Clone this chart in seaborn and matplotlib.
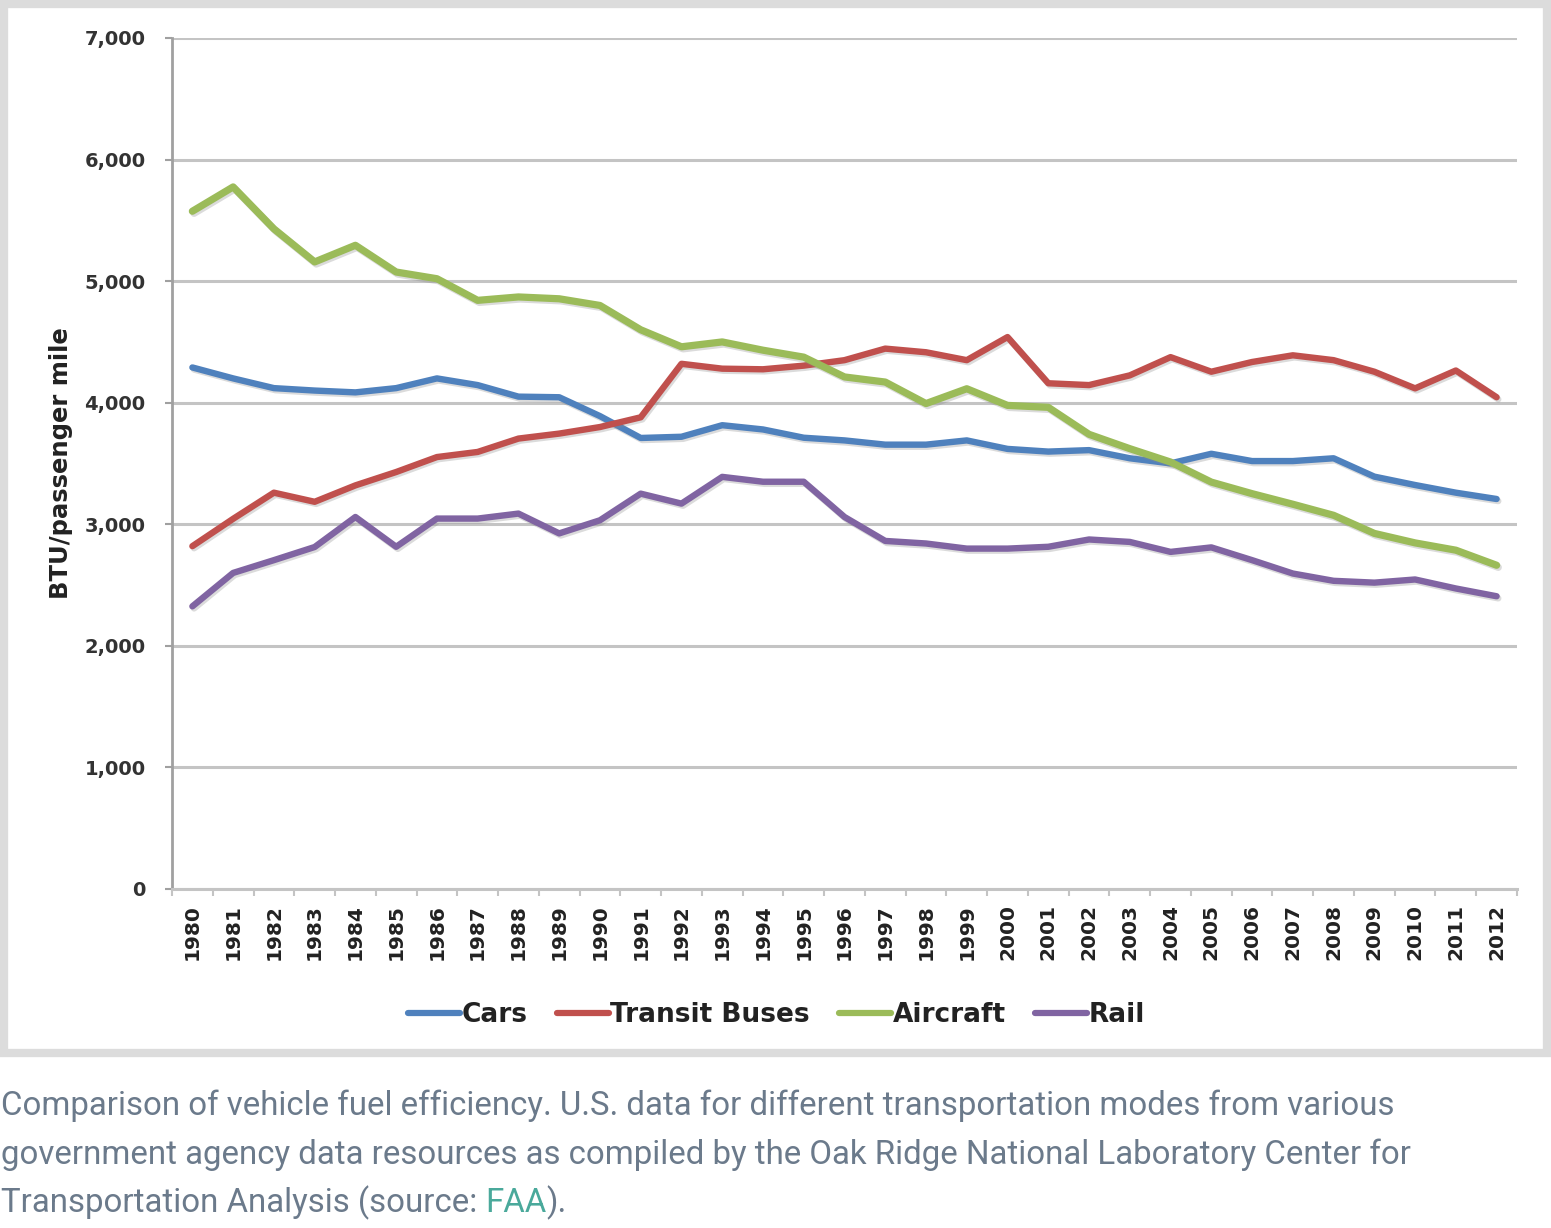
import numpy as np
import pandas as pd
import matplotlib
matplotlib.use("Agg")
import matplotlib.pyplot as plt
import matplotlib.patheffects as pe
from matplotlib.patches import Rectangle
from matplotlib.ticker import FixedLocator, FuncFormatter
import seaborn as sns

years = list(range(1980, 2013))
cars = [4290, 4200, 4120, 4100, 4085, 4120, 4200, 4145, 4050, 4045, 3890, 3710,
        3720, 3815, 3780, 3712, 3690, 3655, 3655, 3690, 3620, 3598, 3610, 3543,
        3501, 3580, 3520, 3520, 3543, 3392, 3323, 3260, 3208]
buses = [2820, 3045, 3260, 3185, 3320, 3430, 3553, 3595, 3705, 3746, 3800, 3880,
         4320, 4280, 4275, 4305, 4350, 4445, 4415, 4350, 4540, 4160, 4145, 4225,
         4375, 4255, 4335, 4390, 4350, 4255, 4118, 4265, 4045]
aircraft = [5575, 5775, 5430, 5158, 5295, 5075, 5020, 4842, 4870, 4855, 4800, 4600,
            4460, 4500, 4432, 4375, 4212, 4170, 3993, 4115, 3978, 3962, 3740, 3622,
            3512, 3347, 3252, 3165, 3074, 2925, 2847, 2787, 2663]
rail = [2325, 2600, 2705, 2813, 3060, 2815, 3047, 3047, 3088, 2925, 3033, 3252,
        3170, 3390, 3350, 3350, 3060, 2863, 2842, 2800, 2800, 2815, 2875, 2855,
        2773, 2810, 2705, 2595, 2535, 2520, 2546, 2472, 2408]
series_names = ["Cars", "Transit Buses", "Aircraft", "Rail"]
colors = ["#4f81bd", "#c0504d", "#9bbb59", "#8064a2"]
y_ticks = [0, 1000, 2000, 3000, 4000, 5000, 6000, 7000]
y_label = "BTU/passenger mile"
caption_lines = [
    "Comparison of vehicle fuel efficiency. U.S. data for different transportation modes from various",
    "government agency data resources as compiled by the Oak Ridge National Laboratory Center for",
]
caption_last = ["Transportation Analysis (source: ", "FAA", ")."]

df = pd.DataFrame({
    "Year": years * 4,
    "Value": cars + buses + aircraft + rail,
    "Mode": sum([[n] * len(years) for n in series_names], []),
})

sns.set_theme(style="white")
plt.rcParams["font.family"] = ["DejaVu Sans"]

W, H = 1551, 1228
fig = plt.figure(figsize=(W / 100, H / 100), dpi=100)
fig.patch.set_facecolor("white")

# outer grey frame
fig.patches.append(Rectangle((4 / W, 1 - 1053 / H), (W - 8) / W, 1049 / H,
                             transform=fig.transFigure, fill=False,
                             edgecolor="#dcdcdc", linewidth=6, zorder=0))

ax = fig.add_axes([172 / W, 1 - 889 / H, (1517 - 172) / W, (889 - 38) / H])
palette = dict(zip(series_names, colors))
sns.lineplot(data=df, x="Year", y="Value", hue="Mode", palette=palette,
             hue_order=series_names, linewidth=4.6, ax=ax, legend=True)

for line in ax.get_lines():
    lw = 5.2 if line.get_color() == "#9bbb59" else 4.6
    line.set_linewidth(lw)
    line.set_solid_joinstyle("round")
    line.set_path_effects([pe.SimpleLineShadow(offset=(1.2, -1.5), shadow_color="#888888", alpha=0.3),
                           pe.Normal()])

ax.set_xlim(1979.5, 2012.5)
ax.set_ylim(0, 7000)
ax.set_yticks(y_ticks)
ax.yaxis.set_major_formatter(FuncFormatter(lambda v, p: f"{int(v):,}"))
ax.set_xticks(years)
ax.set_xticklabels([str(y) for y in years], rotation=90, fontweight="bold",
                   fontsize=14.5, color="#222222")
ax.xaxis.set_minor_locator(FixedLocator([y - 0.5 for y in years] + [2012.5]))
for lab in ax.get_yticklabels():
    lab.set_fontweight("bold")
    lab.set_fontsize(14)
    lab.set_color("#333333")

ax.grid(axis="y", color="#c4c4c4", linewidth=2.2)
ax.set_axisbelow(True)
for s in ["top", "right"]:
    ax.spines[s].set_visible(False)
ax.spines["left"].set_color("#a0a0a0")
ax.spines["left"].set_linewidth(2)
ax.spines["bottom"].set_color("#c4c4c4")
ax.spines["bottom"].set_linewidth(2.2)
ax.tick_params(axis="y", which="major", left=True, length=5, width=1.5,
               color="#a0a0a0", pad=14)
ax.tick_params(axis="x", which="major", bottom=False, length=0, pad=11)
ax.tick_params(axis="x", which="minor", bottom=True, length=5, width=1.5,
               color="#c4c4c4")

ax.set_xlabel("")
ax.set_ylabel(y_label, fontweight="bold", fontsize=17.5, color="#222222")
ax.yaxis.label.set_va("center")
ax.yaxis.set_label_coords((61 - 172) / 1345, 0.5)

leg = ax.legend(loc="center", bbox_to_anchor=(0.4494, -0.148), ncol=4,
                frameon=False, fontsize=19, handlelength=1.97,
                handletextpad=0.05, columnspacing=1.12)
for t in leg.get_texts():
    t.set_fontweight("bold")
    t.set_color("#222222")
for h in leg.get_lines():
    h.set_linewidth(4.5)
    h.set_path_effects([])

# caption
cap_color = "#6b7a8b"
cap_font = dict(family=["Roboto", "DejaVu Sans"], fontsize=23.8, color=cap_color)
base_y = [1115, 1164]
for txt, by in zip(caption_lines, base_y):
    fig.text(1 / W, 1 - by / H, txt, ha="left", va="baseline", **cap_font)

fig.canvas.draw()
renderer = fig.canvas.get_renderer()
x_px = 1.0
by = 1212
for i, piece in enumerate(caption_last):
    kw = dict(cap_font)
    if i == 1:
        kw["color"] = "#4aa99b"
    t = fig.text(x_px / W, 1 - by / H, piece, ha="left", va="baseline", **kw)
    bb = t.get_window_extent(renderer=renderer)
    x_px = bb.x1

fig.savefig("out.png", dpi=100, facecolor="white")
